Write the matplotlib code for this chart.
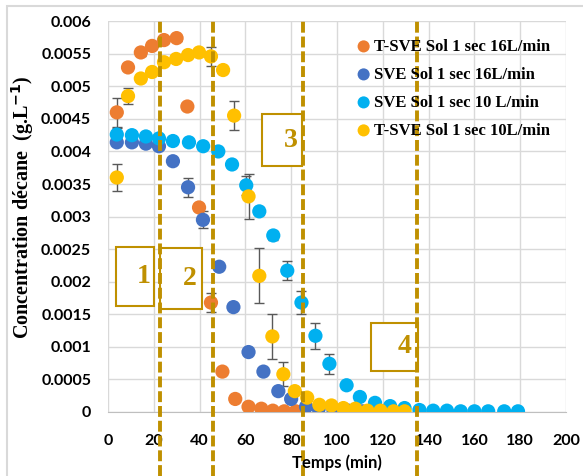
import numpy as np
import matplotlib.pyplot as plt
from matplotlib.patches import Rectangle

# T-SVE Sol 1 sec 16L/min
t_tsve16 = [3.9, 8.8, 14.4, 19.3, 24.5, 30, 34.7, 39.8, 45, 50, 55.6, 61.4, 67, 72, 77, 82]
c_tsve16 = [0.0046, 0.00529, 0.00552, 0.00562, 0.00571, 0.00574, 0.00469, 0.00314, 0.00168,
            0.00062, 0.0002, 0.00008, 0.00005, 0.00002, 0.00001, 0.00001]
e_tsve16 = [0.00022, 0, 0.00005, 0.00005, 0.00005, 0.00004, 0, 0.00005, 0.00015,
            0, 0, 0, 0, 0, 0, 0]

# SVE Sol 1 sec 16L/min
t_sve16 = [3.9, 10.5, 16.6, 22.3, 28.4, 35, 41.5, 48.6, 54.8, 61.4, 67.9, 74.4, 80, 86.5,
           92, 98.5, 105, 111, 117, 123, 129]
c_sve16 = [0.00414, 0.00414, 0.00412, 0.00408, 0.00385, 0.00345, 0.00295, 0.00223, 0.00161,
           0.00092, 0.00062, 0.00032, 0.0002, 0.00008, 0.00005, 0.00002, 0.00002, 0.00001,
           0.00005, 0.00001, 0.00001]
e_sve16 = [0, 0, 0, 0, 0, 0.00015, 0.00013, 0, 0, 0, 0, 0, 0, 0, 0, 0, 0, 0, 0, 0, 0]

# SVE Sol 1 sec 10 L/min
t_sve10 = [3.9, 10.5, 16.6, 22.3, 28.4, 35.4, 41.6, 48.2, 54.2, 60.4, 66.1, 72.2, 78.3, 84.5,
           90.6, 96.7, 104.2, 110, 116.6, 123.2, 129.5, 136, 142, 148, 154, 160, 166, 173, 179]
c_sve10 = [0.00426, 0.00425, 0.00423, 0.0042, 0.00416, 0.00414, 0.00408, 0.004, 0.0038,
           0.00348, 0.00308, 0.00271, 0.00217, 0.00168, 0.00117, 0.00074, 0.00041, 0.00023,
           0.00014, 0.00009, 0.00006, 0.00003, 0.00002, 0.00002, 0.00001, 0.00001, 0.00001,
           0.00001, 0.00001]
e_sve10 = [0.0001, 0, 0, 0, 0, 0, 0, 0, 0, 0.00015, 0.00006, 0.00007, 0.00015, 0.00017,
           0.0002, 0.00015, 0, 0, 0, 0, 0, 0, 0, 0, 0, 0, 0, 0, 0]

# T-SVE Sol 1 sec 10L/min
t_tsve10 = [3.9, 8.8, 14.4, 19.3, 24.5, 29.8, 35, 39.8, 45, 50.3, 55.1, 61.4, 66.1, 71.8,
            76.6, 81.6, 87, 92.3, 97.6, 102.8, 108, 113.3, 119, 124.7, 129.5]
c_tsve10 = [0.0036, 0.00485, 0.00512, 0.00522, 0.00537, 0.00542, 0.00548, 0.00552, 0.00546,
            0.00525, 0.00455, 0.00331, 0.00209, 0.00116, 0.00058, 0.00032, 0.00022, 0.00011,
            0.0001, 0.00006, 0.00005, 0.00002, 0.00002, 0.00001, 0.00001]
e_tsve10 = [0.0002, 0.00012, 0, 0, 0, 0, 0, 0.00005, 0.00015, 0, 0.00022, 0.00035, 0.00042,
            0.00035, 0.00018, 0, 0, 0, 0, 0, 0, 0, 0, 0, 0]

phase_lines = [22.8, 46, 85, 135]
phase_labels = ['1', '2', '3', '4']
# box extents (x0, x1, y0, y1) in data units
phase_boxes = [(3.5, 20.1, 0.00162, 0.00254), (22.8, 41.1, 0.00158, 0.00251),
               (67.4, 84.9, 0.00377, 0.00457), (114.7, 135.2, 0.00063, 0.00137)]

series = [
    ('T-SVE Sol 1 sec 16L/min', t_tsve16, c_tsve16, e_tsve16, '#ED7D31'),
    ('SVE Sol 1 sec 16L/min', t_sve16, c_sve16, e_sve16, '#4472C4'),
    ('SVE Sol 1 sec 10 L/min', t_sve10, c_sve10, e_sve10, '#00B0F0'),
    ('T-SVE Sol 1 sec 10L/min', t_tsve10, c_tsve10, e_tsve10, '#FFC000'),
]
gold = '#BF9000'

fig = plt.figure(figsize=(5.83, 4.76), dpi=100)
ax = fig.add_axes([0.185, 0.1345, 0.786, 0.821])

# light outer frame like the original screenshot
fig.patches.append(Rectangle((0.012, -0.01), 1.0, 0.997, transform=fig.transFigure,
                             fill=False, edgecolor='#D9D9D9', lw=1.5))

handles = []
for label, t, c, e, col in series:
    e = np.array(e)
    mask = e > 0
    ax.errorbar(np.array(t)[mask], np.array(c)[mask], yerr=e[mask], fmt='none',
                ecolor='#595959', elinewidth=1, capsize=3.5, capthick=1, zorder=2)
    h = ax.scatter(t, c, s=105, color=col, edgecolors='none', zorder=3, label=label)
    handles.append(h)

for x in phase_lines:
    ax.axvline(x, ymin=-0.165, ymax=1, color=gold, lw=2.8, linestyle=(0, (2.8, 1.0)),
               clip_on=False, zorder=5)

for (x0, x1, y0, y1), lab in zip(phase_boxes, phase_labels):
    ax.add_patch(Rectangle((x0, y0), x1 - x0, y1 - y0, facecolor='white', edgecolor=gold,
                           lw=1.5, zorder=4))
    ax.text(x1 - (x1 - x0) * 0.28, (y0 + y1) / 2, lab, ha='center', va='center',
            fontsize=20, fontweight='bold', family='Liberation Serif', color=gold, zorder=6)

ax.set_xlim(0, 200)
ax.set_ylim(0, 0.006)
ax.set_xticks(np.arange(0, 201, 20))
ax.set_yticks(np.arange(0, 0.00601, 0.0005))
ax.set_yticklabels(['0', '0.0005', '0.001', '0.0015', '0.002', '0.0025', '0.003',
                    '0.0035', '0.004', '0.0045', '0.005', '0.0055', '0.006'])
ax.grid(True, color='#D9D9D9', lw=1)
ax.set_axisbelow(True)
for s in ['top', 'right', 'left']:
    ax.spines[s].set_visible(False)
ax.spines['bottom'].set_color('#BFBFBF')
ax.tick_params(length=0, labelsize=11.5, pad=12)
for lab in ax.get_xticklabels() + ax.get_yticklabels():
    lab.set_family('Lato')
    lab.set_fontweight('bold')
ax.tick_params(axis='x', pad=16)

fig.text(0.578, 0.027, 'Temps (min)', ha='center', va='center', fontsize=12,
         family='Lato', fontweight='bold')
fig.text(0.038, 0.565, 'Concentration décane  (g.L$^{\\mathbf{-1}}$)', rotation=90,
         ha='center', va='center', fontsize=14.5, fontweight='bold', family='Liberation Serif')

leg = ax.legend(handles=handles, loc='upper left', bbox_to_anchor=(0.54, 0.955),
                frameon=False, prop={'family': 'Liberation Serif', 'weight': 'bold', 'size': 12},
                handlelength=1.0, handletextpad=0.15, labelspacing=0.72, markerscale=0.85,
                borderaxespad=0, borderpad=0)
leg.set_zorder(7)

fig.savefig('out.png', dpi=100)
